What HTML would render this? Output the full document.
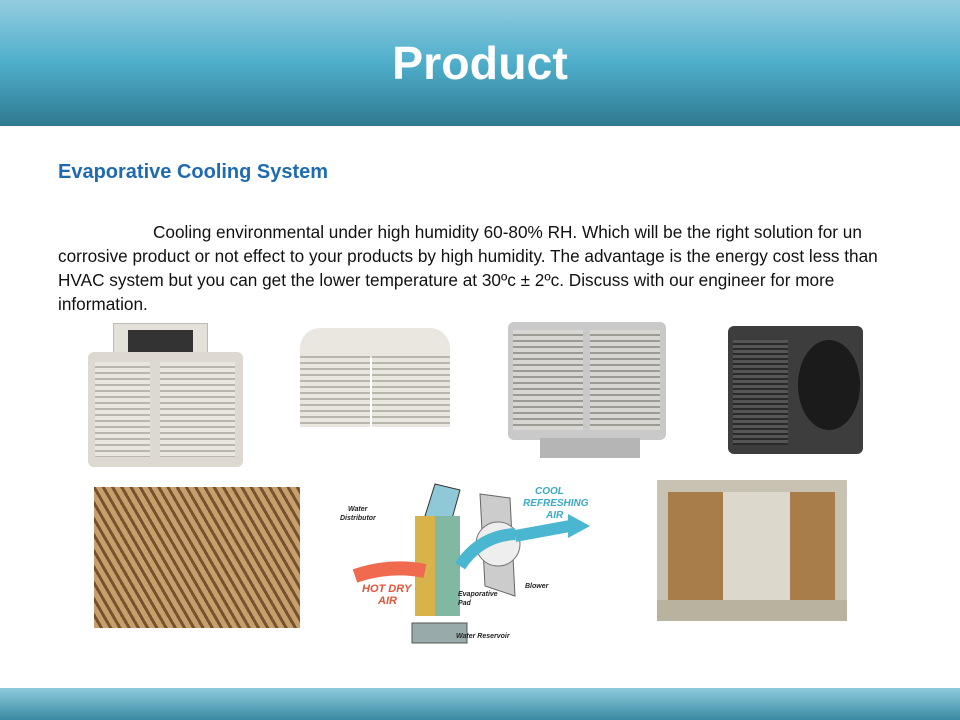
<!DOCTYPE html>
<html><head><meta charset="utf-8"><style>
*{margin:0;padding:0;box-sizing:border-box}
body{width:960px;height:720px;position:relative;background:#fff;font-family:"Liberation Sans","DejaVu Sans",sans-serif;overflow:hidden}
.hdr{position:absolute;left:0;top:0;width:960px;height:126px;background:linear-gradient(#93cde0 0%,#4eaecb 50%,#2f7a91 100%)}
.hdr h1{position:absolute;width:100%;top:36px;text-align:center;color:#fff;font-size:46.5px;font-weight:bold;font-family:"Liberation Sans",sans-serif}
.ftr{position:absolute;left:0;top:688px;width:960px;height:32px;background:linear-gradient(#8ecbdd,#3a8aa3)}
h2{position:absolute;left:58px;top:161px;font-size:20px;color:#1f6bb2;font-family:"Liberation Sans",sans-serif;font-weight:bold}
.p{position:absolute;left:58px;top:220px;width:900px;font-size:17.2px;line-height:24px;color:#111;font-family:"Liberation Sans",sans-serif;white-space:nowrap}
.box{position:absolute}
.grill{background:repeating-linear-gradient(#e8e6df 0 4px,#b9b6ab 4px 6px)}
</style></head><body>
<div class="hdr"><h1>Product</h1></div>
<h2>Evaporative Cooling System</h2>
<div class="p"><span style="display:inline-block;width:95px"></span>Cooling environmental under high humidity 60-80% RH. Which will be the right solution for un<br>corrosive product or not effect to your products by high humidity. The advantage is the energy cost less than<br>HVAC system but you can get the lower temperature at 30ºc ± 2ºc. Discuss with our engineer for more<br>information.</div>

<div class="box" style="left:113px;top:323px;width:95px;height:35px;background:#e3e1da;border:1px solid #bbb"></div>
<div class="box" style="left:128px;top:330px;width:65px;height:24px;background:#333"></div>
<div class="box" style="left:88px;top:352px;width:155px;height:115px;background:#ddd9d0;border-radius:6px"></div>
<div class="box grill" style="left:95px;top:362px;width:55px;height:95px"></div>
<div class="box grill" style="left:160px;top:362px;width:75px;height:95px"></div>
<div class="box" style="left:300px;top:328px;width:150px;height:30px;background:#e9e7e0;border-radius:20px 20px 4px 4px"></div>
<div class="box grill" style="left:300px;top:352px;width:70px;height:75px"></div>
<div class="box grill" style="left:372px;top:352px;width:78px;height:75px"></div>
<div class="box" style="left:508px;top:322px;width:158px;height:118px;background:#c9c9c9;border-radius:6px"></div>
<div class="box" style="left:513px;top:330px;width:70px;height:100px;background:repeating-linear-gradient(#d8d6d2 0 4px,#9c9a95 4px 6px)"></div>
<div class="box" style="left:590px;top:330px;width:70px;height:100px;background:repeating-linear-gradient(#d8d6d2 0 4px,#9c9a95 4px 6px)"></div>
<div class="box" style="left:540px;top:438px;width:100px;height:20px;background:#b5b5b5"></div>
<div class="box" style="left:728px;top:326px;width:135px;height:128px;background:#3d3d3d;border-radius:6px"></div>
<div class="box" style="left:733px;top:340px;width:55px;height:105px;background:repeating-linear-gradient(#555 0 3px,#2a2a2a 3px 5px)"></div>
<div class="box" style="left:798px;top:340px;width:62px;height:90px;background:#1b1b1b;border-radius:50%"></div>

<div class="box" style="left:94px;top:487px;width:206px;height:141px;background:repeating-linear-gradient(60deg,#c49a63 0 5px,#6e4a26 5px 8px),#b08552;opacity:.95"></div>

<svg class="box" style="left:340px;top:476px" width="280" height="170" font-family="Liberation Sans,sans-serif" font-weight="bold" font-style="italic">
<polygon points="95,8 120,14 110,50 85,40" fill="#8fc8d6" stroke="#333"/>
<rect x="75" y="40" width="45" height="100" fill="#d8b34a"/>
<rect x="95" y="40" width="25" height="100" fill="#5cbac8" opacity=".7"/>
<rect x="72" y="147" width="55" height="20" fill="#9aa" stroke="#555"/>
<polygon points="140,18 170,22 175,120 145,110" fill="#ccc" stroke="#666"/>
<circle cx="158" cy="68" r="22" fill="#eee" stroke="#777"/>
<path d="M120,90 Q140,60 175,58" stroke="#4ab6cf" stroke-width="12" fill="none"/>
<path d="M175,60 L230,50" stroke="#4ab6cf" stroke-width="12"/>
<polygon points="228,38 250,50 228,62" fill="#4ab6cf"/>
<path d="M15,100 Q50,88 85,95" stroke="#ef6a4f" stroke-width="14" fill="none"/>
<text x="8" y="35" font-size="7" fill="#222">Water</text>
<text x="0" y="44" font-size="7" fill="#222">Distributor</text>
<text x="195" y="18" font-size="10" fill="#3aaac6">COOL</text>
<text x="183" y="30" font-size="10" fill="#3aaac6">REFRESHING</text>
<text x="206" y="42" font-size="10" fill="#3aaac6">AIR</text>
<text x="22" y="116" font-size="11" fill="#e5533a">HOT DRY</text>
<text x="38" y="128" font-size="11" fill="#e5533a">AIR</text>
<text x="118" y="120" font-size="7" fill="#222">Evaporative</text>
<text x="118" y="129" font-size="7" fill="#222">Pad</text>
<text x="185" y="112" font-size="7" fill="#222">Blower</text>
<text x="116" y="162" font-size="7" fill="#222">Water Reservoir</text>
</svg>

<div class="box" style="left:657px;top:480px;width:190px;height:141px;background:#c8c2b2"></div>
<div class="box" style="left:668px;top:492px;width:55px;height:110px;background:#a97d4a"></div>
<div class="box" style="left:790px;top:492px;width:45px;height:110px;background:#a97d4a"></div>
<div class="box" style="left:723px;top:492px;width:67px;height:110px;background:#ddd8cc"></div>
<div class="box" style="left:657px;top:600px;width:190px;height:21px;background:#b9b29f"></div>
<div class="ftr"></div>
</body></html>
